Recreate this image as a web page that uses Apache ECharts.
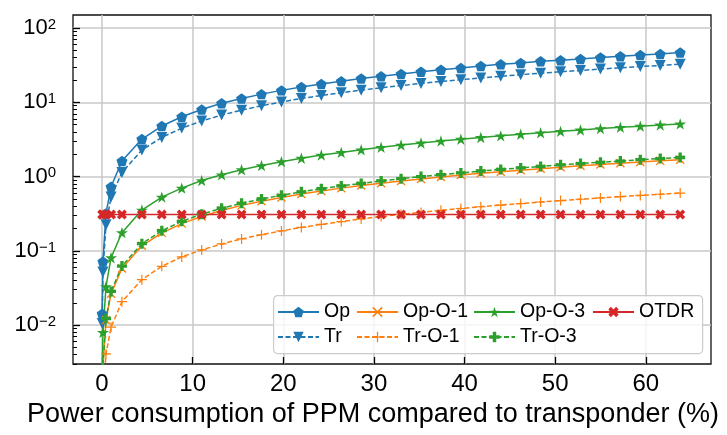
<!DOCTYPE html>
<html>
<head>
<meta charset="utf-8">
<script src="https://cdn.jsdelivr.net/npm/echarts@6/dist/echarts.min.js"></script>
<style>
html, body { margin: 0; padding: 0; background: #fff; }
#chart { width: 727px; height: 435px; }
</style>
</head>
<body>
<div id="chart"></div>
<script>
// x: power consumption of PPM compared to transponder (%)
var xs = [0.02, 0.1, 0.44, 1, 2.2, 4.4, 6.6, 8.8, 11, 13.2, 15.4, 17.6, 19.8, 22, 24.2, 26.4, 28.6, 30.8, 33, 35.2, 37.4, 39.6, 41.8, 44, 46.2, 48.4, 50.6, 52.8, 55, 57.2, 59.4, 61.6, 63.8];

var opVals = [0.0142, 0.072, 0.32, 0.73, 1.62, 3.2, 4.8, 6.4, 8.0, 9.7, 11.3, 12.9, 14.5, 16.1, 17.7, 19.3, 20.9, 22.5, 24.1, 25.8, 27.4, 29.0, 30.9, 32.6, 33.9, 35.7, 36.8, 38.4, 40.1, 41.7, 43.4, 44.8, 46.8];
var trVals = [0.0105, 0.052, 0.225, 0.53, 1.14, 2.28, 3.37, 4.5, 5.6, 6.75, 7.85, 9.0, 10.1, 11.3, 12.35, 13.5, 14.6, 15.7, 16.8, 18.0, 19.1, 20.2, 21.3, 22.4, 23.6, 24.7, 25.8, 26.9, 28.1, 29.2, 30.3, 31.4, 32.6];
var opO1Vals = [0.00053, 0.00265, 0.0117, 0.0265, 0.058, 0.117, 0.175, 0.233, 0.29, 0.35, 0.41, 0.466, 0.525, 0.583, 0.64, 0.70, 0.76, 0.815, 0.875, 0.93, 0.99, 1.05, 1.11, 1.165, 1.22, 1.28, 1.34, 1.40, 1.46, 1.515, 1.57, 1.63, 1.69];
var trO1Vals = [0.00019, 0.00094, 0.0041, 0.0094, 0.0207, 0.041, 0.062, 0.083, 0.103, 0.124, 0.145, 0.165, 0.186, 0.207, 0.227, 0.248, 0.269, 0.29, 0.31, 0.33, 0.352, 0.372, 0.393, 0.414, 0.434, 0.455, 0.476, 0.496, 0.517, 0.538, 0.558, 0.579, 0.60];
var opO3Vals = [0.0016, 0.008, 0.033, 0.081, 0.176, 0.355, 0.53, 0.70, 0.885, 1.06, 1.24, 1.41, 1.59, 1.77, 1.95, 2.12, 2.30, 2.48, 2.66, 2.84, 3.01, 3.19, 3.37, 3.54, 3.72, 3.90, 4.07, 4.25, 4.43, 4.61, 4.78, 4.96, 5.13];
var trO3Vals = [0.00057, 0.0028, 0.0123, 0.0285, 0.0625, 0.125, 0.187, 0.25, 0.312, 0.375, 0.437, 0.50, 0.56, 0.625, 0.687, 0.75, 0.81, 0.875, 0.937, 1.0, 1.06, 1.12, 1.19, 1.25, 1.31, 1.37, 1.44, 1.50, 1.56, 1.62, 1.69, 1.75, 1.81];
var otdrVals = [0.31, 0.31, 0.31, 0.31, 0.31, 0.31, 0.31, 0.31, 0.31, 0.31, 0.31, 0.31, 0.31, 0.31, 0.31, 0.31, 0.31, 0.31, 0.31, 0.31, 0.31, 0.31, 0.31, 0.31, 0.31, 0.31, 0.31, 0.31, 0.31, 0.31, 0.31, 0.31, 0.31];

var xTicks = [0, 10, 20, 30, 40, 50, 60];
var yTicks = [0.01, 0.1, 1, 10, 100];

var FONT = '"Liberation Sans", Arial, sans-serif';
var X_MIN = -3.2, X_MAX = 67.2, Y_MIN = 0.003, Y_MAX = 150;

// log minor ticks 2..9 of every decade
var yMinor = [];
[0.001, 0.01, 0.1, 1, 10].forEach(function (d) {
	for (var k = 2; k <= 9; k++) yMinor.push(+(k * d).toPrecision(3));
});

// marker shapes (matplotlib p, v, x, +, *, P, X)
var SYM = {
	pentagon: 'path://M0,-100L95.1,-30.9L58.8,80.9L-58.8,80.9L-95.1,-30.9Z',
	triDown: 'path://M-100,-100L100,-100L0,100Z',
	thinX: 'path://M62.2,-79.2L79.2,-62.2L17,0L79.2,62.2L62.2,79.2L0,17L-62.2,79.2L-79.2,62.2L-17,0L-79.2,-62.2L-62.2,-79.2L0,-17Z',
	thinPlus: 'path://M-12,-100L12,-100L12,-12L100,-12L100,12L12,12L12,100L-12,100L-12,12L-100,12L-100,-12L-12,-12Z',
	star: 'path://M0,-100L22.5,-30.9L95.1,-30.9L36.3,11.8L58.8,80.9L0,38.2L-58.8,80.9L-36.3,11.8L-95.1,-30.9L-22.5,-30.9Z',
	plusFilled: 'path://M-33,-100L33,-100L33,-33L100,-33L100,33L33,33L33,100L-33,100L-33,33L-100,33L-100,-33L-33,-33Z',
	xFilled: 'path://M50,-100L100,-50L50,0L100,50L50,100L0,50L-50,100L-100,50L-50,0L-100,-50L-50,-100L0,-50Z'
};

function pairs(vals) {
	return vals.map(function (v, i) { return [xs[i], v]; });
}

function makeSeries(name, vals, color, dashed, symbol, size) {
	return {
		name: name,
		type: 'line',
		data: pairs(vals),
		symbol: symbol,
		symbolSize: size,
		symbolKeepAspect: true,
		clip: true,
		lineStyle: { color: color, width: 1.5, type: dashed ? [5, 2.5] : 'solid' },
		itemStyle: { color: color },
		emphasis: { disabled: true }
	};
}

function legendCol(left, names) {
	return {
		data: names,
		orient: 'vertical',
		left: left,
		top: 302,
		padding: 0,
		itemGap: 5,
		itemWidth: 41,
		itemHeight: 13,
		selectedMode: false,
		z: 5,
		textStyle: { fontFamily: FONT, fontSize: 19.5, color: '#000', lineHeight: 20 }
	};
}

var chart = echarts.init(document.getElementById('chart'));

var option = {
	animation: false,
	textStyle: { fontFamily: FONT },
	grid: { left: 73, right: 16, top: 15, bottom: 71, show: true, borderColor: '#111', borderWidth: 1.3 },
	xAxis: {
		type: 'value',
		min: X_MIN,
		max: X_MAX,
		axisLine: { show: false, onZero: false },
		axisTick: { inside: true, length: 7, customValues: xTicks, lineStyle: { color: '#000', width: 1.3 } },
		axisLabel: { customValues: xTicks, fontFamily: FONT, fontSize: 24, color: '#000', margin: 8 },
		splitLine: { show: true, lineStyle: { color: '#c8c8c8', width: 1.5 } },
		name: 'Power consumption of PPM compared to transponder (%)',
		nameLocation: 'middle',
		nameGap: 37,
		nameTextStyle: { fontFamily: FONT, fontSize: 27, color: '#000', padding: [0, 38, 0, 0] }
	},
	yAxis: [{
		type: 'log',
		logBase: 10,
		min: Y_MIN,
		max: Y_MAX,
		axisLine: { show: false, onZero: false },
		axisTick: { inside: true, length: 7, customValues: yTicks, lineStyle: { color: '#000', width: 1.3 } },
		axisLabel: {
			customValues: yTicks,
			margin: 17,
			color: '#000',
			formatter: function (v) {
				var e = Math.round(Math.log10(v));
				return '{b|10}{s|' + (e < 0 ? '\u2212' + (-e) : e) + '}';
			},
			rich: {
				b: { fontFamily: FONT, fontSize: 22, lineHeight: 22, verticalAlign: 'bottom', color: '#000' },
				s: { fontFamily: FONT, fontSize: 15, lineHeight: 15, verticalAlign: 'top', padding: [0, 0, 12, 0], color: '#000' }
			}
		},
		splitLine: { show: true, lineStyle: { color: '#c8c8c8', width: 1.5 } }
	}, {
		// minor ticks only
		type: 'log',
		logBase: 10,
		min: Y_MIN,
		max: Y_MAX,
		position: 'left',
		axisLine: { show: false, onZero: false },
		axisLabel: { show: false },
		splitLine: { show: false },
		axisTick: { inside: true, length: 4, customValues: yMinor, lineStyle: { color: '#000', width: 1 } }
	}],
	legend: [
		legendCol(277, ['Op', 'Tr']),
		legendCol(356, ['Op-O-1', 'Tr-O-1']),
		legendCol(473, ['Op-O-3', 'Tr-O-3']),
		legendCol(592, ['OTDR'])
	],
	graphic: [{
		type: 'rect',
		left: 273,
		top: 295,
		z: 3,
		shape: { width: 429, height: 58, r: 4 },
		style: { fill: 'rgba(255,255,255,0.8)', stroke: '#cccccc', lineWidth: 1.2 }
	}],
	series: [
		makeSeries('Op', opVals, '#1f77b4', false, SYM.pentagon, 11),
		makeSeries('Tr', trVals, '#1f77b4', true, SYM.triDown, 11),
		makeSeries('Op-O-1', opO1Vals, '#ff7f0e', false, SYM.thinX, 9),
		makeSeries('Tr-O-1', trO1Vals, '#ff7f0e', true, SYM.thinPlus, 10),
		makeSeries('Op-O-3', opO3Vals, '#2ca02c', false, SYM.star, 12),
		makeSeries('Tr-O-3', trO3Vals, '#2ca02c', true, SYM.plusFilled, 10),
		makeSeries('OTDR', otdrVals, '#d62728', false, SYM.xFilled, 10)
	]
};

chart.setOption(option);
</script>
</body>
</html>
